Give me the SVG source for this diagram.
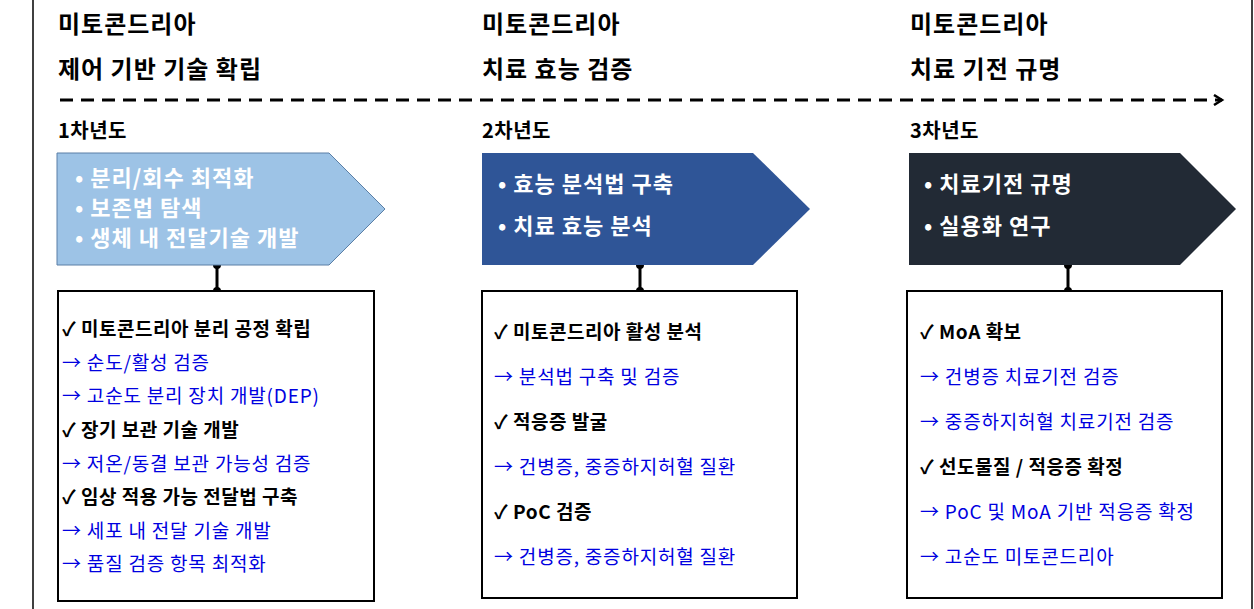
<svg xmlns="http://www.w3.org/2000/svg" width="1254" height="609" viewBox="0 0 1254 609">
<style>
text{font-family:"Noto Sans CJK KR","Noto Sans",sans-serif}
.h{font-size:24px;font-weight:bold;fill:#000;letter-spacing:1px}
.y{font-size:20px;font-weight:bold;fill:#000;letter-spacing:0.5px}
.c{font-size:22px;font-weight:bold;fill:#fff;letter-spacing:1px}
.b{font-size:19px;font-weight:bold;fill:#000;letter-spacing:0.5px}
.a{font-size:19px;fill:#0000e0;letter-spacing:0.8px}
.box{fill:#fff;stroke:#000;stroke-width:2}
</style>
<defs><marker id="ar" markerWidth="12" markerHeight="12" refX="9" refY="6" orient="auto" markerUnits="userSpaceOnUse"><path d="M1,1 L9,6 L1,11" fill="none" stroke="#000" stroke-width="2.5"/></marker></defs>
<rect width="1254" height="609" fill="#fff"/>
<line x1="33" y1="0" x2="33" y2="609" stroke="#000" stroke-width="1.5"/>
<line x1="1252" y1="0" x2="1252" y2="609" stroke="#000" stroke-width="1.5"/>
<g id="headings">
<text class="h" x="58" y="33">미토콘드리아</text><text class="h" x="58" y="78">제어 기반 기술 확립</text>
<text class="h" x="482" y="33">미토콘드리아</text><text class="h" x="482" y="78">치료 효능 검증</text>
<text class="h" x="910" y="33">미토콘드리아</text><text class="h" x="910" y="78">치료 기전 규명</text>
<text class="y" x="58" y="138">1차년도</text><text class="y" x="482" y="138">2차년도</text><text class="y" x="910" y="138">3차년도</text>
</g>
<g id="connectors" stroke="#000">
<line x1="60" y1="100" x2="1222" y2="100" stroke-width="3" stroke-dasharray="13,8" marker-end="url(#ar)"/>
<g stroke-width="3"><line x1="217" y1="265" x2="217" y2="291"/><line x1="640" y1="265" x2="640" y2="291"/><line x1="1068" y1="265" x2="1068" y2="291"/></g>
<g fill="#000" stroke="none"><circle cx="217" cy="265" r="4"/><circle cx="217" cy="291" r="4"/><circle cx="640" cy="265" r="4"/><circle cx="640" cy="291" r="4"/><circle cx="1068" cy="265" r="4"/><circle cx="1068" cy="291" r="4"/></g>
</g>
<g id="chevron1"><path d="M57,153 H329 L385,209 L329,265 H57 Z" fill="#9dc3e6" stroke="#5b7fa6" stroke-width="1"/>
<text class="c" x="75" y="186">• 분리/회수 최적화</text><text class="c" x="75" y="216">• 보존법 탐색</text><text class="c" x="75" y="246">• 생체 내 전달기술 개발</text></g>
<g id="chevron2"><path d="M482,153 H753 L810,209 L753,265 H482 Z" fill="#2f5597"/>
<text class="c" x="498" y="192">• 효능 분석법 구축</text><text class="c" x="498" y="234">• 치료 효능 분석</text></g>
<g id="chevron3"><path d="M909,153 H1180 L1236,209 L1180,265 H909 Z" fill="#222a35"/>
<text class="c" x="924" y="192">• 치료기전 규명</text><text class="c" x="924" y="234">• 실용화 연구</text></g>
<g id="box1"><rect class="box" x="58" y="291" width="316" height="310"/>
<text class="b" x="62" y="336">✓ 미토콘드리아 분리 공정 확립</text>
<text class="a" x="62" y="370">→ 순도/활성 검증</text>
<text class="a" x="62" y="403">→ 고순도 분리 장치 개발(DEP)</text>
<text class="b" x="62" y="437">✓ 장기 보관 기술 개발</text>
<text class="a" x="62" y="471">→ 저온/동결 보관 가능성 검증</text>
<text class="b" x="62" y="504">✓ 임상 적용 가능 전달법 구축</text>
<text class="a" x="62" y="538">→ 세포 내 전달 기술 개발</text>
<text class="a" x="62" y="571">→ 품질 검증 항목 최적화</text></g>
<g id="box2"><rect class="box" x="482" y="291" width="315" height="307"/>
<text class="b" x="494" y="339">✓ 미토콘드리아 활성 분석</text>
<text class="a" x="494" y="384">→ 분석법 구축 및 검증</text>
<text class="b" x="494" y="429">✓ 적응증 발굴</text>
<text class="a" x="494" y="474">→ 건병증, 중증하지허혈 질환</text>
<text class="b" x="494" y="519">✓ PoC 검증</text>
<text class="a" x="494" y="564">→ 건병증, 중증하지허혈 질환</text></g>
<g id="box3"><rect class="box" x="907" y="291" width="315" height="307"/>
<text class="b" x="920" y="339">✓ MoA 확보</text>
<text class="a" x="920" y="384">→ 건병증 치료기전 검증</text>
<text class="a" x="920" y="429">→ 중증하지허혈 치료기전 검증</text>
<text class="b" x="920" y="474">✓ 선도물질 / 적응증 확정</text>
<text class="a" x="920" y="519">→ PoC 및 MoA 기반 적응증 확정</text>
<text class="a" x="920" y="564">→ 고순도 미토콘드리아</text></g>
</svg>
